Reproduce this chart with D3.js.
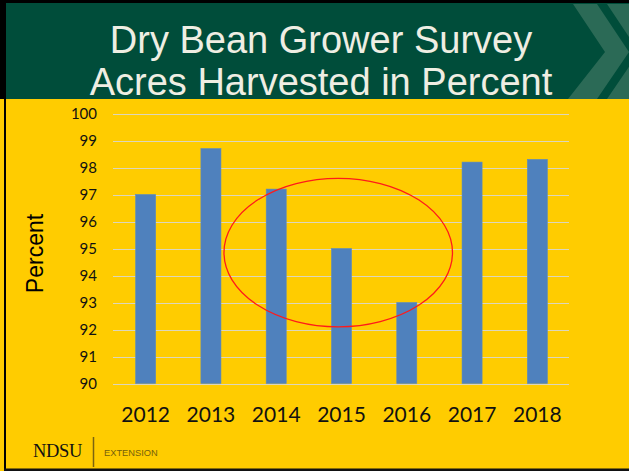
<!DOCTYPE html>
<html>
<head>
<meta charset="utf-8">
<script src="https://cdn.jsdelivr.net/npm/d3@7/dist/d3.min.js"></script>
<style>
  html, body { margin: 0; padding: 0; background: #ffcc00; }
  svg { display: block; }
</style>
</head>
<body>
<svg id="chart" width="629" height="471"></svg>
<script>
// Share of planted dry bean acres that were harvested, by survey year
const years = ["2012", "2013", "2014", "2015", "2016", "2017", "2018"];
const harvestedPct = [97.0, 98.7, 97.2, 95.0, 93.0, 98.2, 98.3];
const yTicks = [90, 91, 92, 93, 94, 95, 96, 97, 98, 99, 100];
const titleLines = ["Dry Bean Grower Survey", "Acres Harvested in Percent"];

// Circled group of low-harvest years (2014–2016), in band index / value units
const highlight = { centerIndex: 2.95, halfSpan: 1.75, top: 97.6, bottom: 92.1 };

const W = 629, H = 471;
const plot = { left: 113, right: 570, top: 113.5, bottom: 383.5 };

const svg = d3.select("#chart");

// Slide background
svg.append("rect").attr("width", W).attr("height", H).attr("fill", "#ffcc00");

// Header band
const header = svg.append("g");
header.append("rect").attr("x", 0).attr("y", 0).attr("width", W).attr("height", 99).attr("fill", "#004d3a");
const chevronFill = "#2b6a56";
header.append("polygon")
  .attr("points", "573,4 597,4 629,52 597,99 568,99 605,52")
  .attr("fill", chevronFill);
header.append("polygon")
  .attr("points", "607,4 629,4 629,99 607,99 639,52")
  .attr("fill", chevronFill);

header.selectAll("text.title")
  .data(titleLines)
  .join("text")
  .attr("class", "title")
  .attr("x", 321)
  .attr("y", (d, i) => 53 + i * 42)
  .attr("text-anchor", "middle")
  .attr("font-family", "'Liberation Sans', Arial, sans-serif")
  .attr("font-size", 38)
  .attr("fill", "#efeee3")
  .text(d => d);

// Slide frame edges
svg.append("rect").attr("x", 0).attr("y", 0).attr("width", W).attr("height", 3).attr("fill", "#000");
svg.append("rect").attr("x", 0).attr("y", 0).attr("width", 6).attr("height", 99).attr("fill", "#000");
svg.append("rect").attr("x", 4).attr("y", 99).attr("width", 2).attr("height", H - 99).attr("fill", "#000");
svg.append("rect").attr("x", 4).attr("y", 468.5).attr("width", W - 4).attr("height", 2.5).attr("fill", "#111");

// Scales
const x = d3.scaleBand()
  .domain(years)
  .range([plot.left, plot.right])
  .paddingInner(0.693)
  .paddingOuter(0.3465);

const y = d3.scaleLinear()
  .domain([90, 100])
  .range([plot.bottom, plot.top]);

// Horizontal gridlines
svg.append("g")
  .selectAll("line")
  .data(yTicks)
  .join("line")
  .attr("x1", plot.left)
  .attr("x2", plot.right - 1)
  .attr("y1", d => Math.round(y(d)) + 0.5)
  .attr("y2", d => Math.round(y(d)) + 0.5)
  .attr("stroke", "#dcd6bc")
  .attr("stroke-width", 1.2);

// Y axis tick labels
const yAxis = d3.axisLeft(y).tickValues(yTicks).tickSize(0).tickPadding(0).tickFormat(d3.format("d"));
svg.append("g")
  .attr("transform", `translate(97,0)`)
  .call(yAxis)
  .call(g => g.select(".domain").remove())
  .selectAll("text")
  .attr("font-family", "Lato, 'Open Sans', sans-serif")
  .attr("font-size", 15)
  .attr("fill", "#111")
  .attr("dy", "0.36em");

// X axis tick labels
const xAxis = d3.axisBottom(x).tickSize(0).tickPadding(0);
svg.append("g")
  .attr("transform", `translate(0,405)`)
  .call(xAxis)
  .call(g => g.select(".domain").remove())
  .selectAll("text")
  .attr("font-family", "Lato, 'Open Sans', sans-serif")
  .attr("font-size", 21)
  .attr("fill", "#111")
  .attr("dy", "0.8em");

// Bars
svg.append("g")
  .selectAll("rect")
  .data(years.map((yr, i) => ({ yr, v: harvestedPct[i] })))
  .join("rect")
  .attr("x", d => x(d.yr))
  .attr("y", d => y(d.v))
  .attr("width", x.bandwidth())
  .attr("height", d => y(90) - y(d.v))
  .attr("fill", "#4f81bd")
  .attr("stroke", "#5b8ac0")
  .attr("stroke-width", 0.6);

// Y axis title
svg.append("text")
  .attr("transform", `translate(43,${(plot.top + plot.bottom) / 2 + 5}) rotate(-90)`)
  .attr("text-anchor", "middle")
  .attr("font-family", "'Liberation Sans', Arial, sans-serif")
  .attr("font-size", 23)
  .attr("fill", "#000")
  .text("Percent");

// Highlight ellipse around 2014–2016
const bandCenter = i => plot.left + x.step() * x.paddingOuter() + x.step() * i + x.bandwidth() / 2;
svg.append("ellipse")
  .attr("cx", bandCenter(highlight.centerIndex))
  .attr("cy", (y(highlight.top) + y(highlight.bottom)) / 2)
  .attr("rx", highlight.halfSpan * x.step())
  .attr("ry", (y(highlight.bottom) - y(highlight.top)) / 2)
  .attr("fill", "none")
  .attr("stroke", "#ff1a1a")
  .attr("stroke-width", 1.3);

// Footer logo
const footer = svg.append("g");
footer.append("text")
  .attr("x", 33)
  .attr("y", 457)
  .attr("font-family", "'Liberation Serif', 'Times New Roman', serif")
  .attr("font-size", 18.5)
  .attr("fill", "#111")
  .attr("letter-spacing", -0.3)
  .text("NDSU");
footer.append("line")
  .attr("x1", 93.5).attr("x2", 93.5)
  .attr("y1", 437).attr("y2", 467)
  .attr("stroke", "#7a6410")
  .attr("stroke-width", 1.5);
footer.append("text")
  .attr("x", 104)
  .attr("y", 456)
  .attr("font-family", "'Liberation Sans', Arial, sans-serif")
  .attr("font-size", 9.3)
  .attr("fill", "#75600c")
  .text("EXTENSION");
</script>
</body>
</html>
